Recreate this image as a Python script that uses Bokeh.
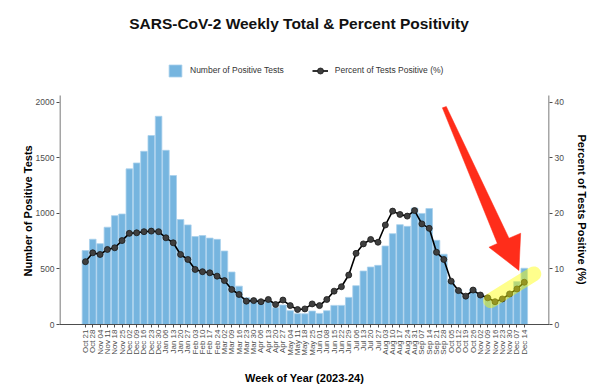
import math
from bokeh.plotting import figure
from bokeh.models import (Range1d, LinearAxis, FixedTicker, Legend, LegendItem,
                          ColumnDataSource, Label, Title)
from bokeh.embed import file_html
from bokeh.resources import INLINE

weeks = ["Oct 21","Oct 28","Nov 04","Nov 11","Nov 18","Nov 25","Dec 02","Dec 09","Dec 16",
         "Dec 23","Dec 30","Jan 06","Jan 13","Jan 20","Jan 27","Feb 03","Feb 10","Feb 17",
         "Feb 24","Mar 02","Mar 09","Mar 16","Mar 23","Mar 30","Apr 06","Apr 13","Apr 20",
         "Apr 27","May 04","May 11","May 18","May 25","Jun 01","Jun 08","Jun 15","Jun 22",
         "Jun 29","Jul 06","Jul 13","Jul 20","Jul 27","Aug 03","Aug 10","Aug 17","Aug 24",
         "Aug 31","Sep 07","Sep 14","Sep 21","Sep 28","Oct 05","Oct 12","Oct 19","Oct 26",
         "Nov 02","Nov 09","Nov 16","Nov 23","Nov 30","Dec 07","Dec 14"]

positive_tests = [665, 767, 727, 875, 979, 994, 1400, 1453, 1558, 1700, 1873, 1567, 1340, 944,
                  896, 791, 800, 777, 766, 661, 472, 345, 240, 230, 215, 208, 151, 175, 124,
                  97, 96, 121, 100, 124, 172, 172, 244, 349, 481, 517, 532, 706, 817, 898,
                  883, 1047, 999, 1043, 757, 632, 392, 314, 259, 320, 271, 247, 205, 227,
                  287, 386, 506]

percent_positive = [11.3, 12.9, 12.6, 13.5, 13.8, 15.1, 16.4, 16.5, 16.7, 16.8, 16.7, 15.6,
                    14.7, 12.6, 11.7, 9.9, 9.5, 9.3, 8.7, 7.9, 6.3, 5.4, 4.2, 4.3, 4.1, 4.5,
                    3.6, 4.4, 3.4, 2.7, 2.8, 3.7, 3.4, 4.5, 6.0, 6.8, 8.9, 12.8, 14.5, 15.3,
                    14.8, 17.9, 20.4, 19.8, 19.5, 20.5, 18.1, 17.3, 13.0, 11.7, 7.8, 6.1, 5.1,
                    6.2, 5.3, 4.8, 4.1, 4.6, 5.5, 6.4, 7.6]

left_ticks = [0, 500, 1000, 1500, 2000]
right_ticks = [0, 10, 20, 30, 40]
left_axis_max = 2060
right_axis_max = 41.2

# annotation overlays (data coordinates: x = week index, y = left-axis units / percent)
highlight_x = [55.4, 61.3]
highlight_pct = [4.3, 9.1]
arrow_x = [48.80, 56.32, 55.17, 59.27, 59.51, 57.91, 49.34]
arrow_y = [1949, 729, 695, 486, 821, 776, 1961]

idx = list(range(len(weeks)))
src = ColumnDataSource(dict(x=idx, n=positive_tests, pct=percent_positive))

FONT = "Liberation Sans"
GREY = "#4d4d4d"

W, H = 600, 388
BL, BR, BB = 59, 51, 64          # borders; frame runs to the top edge
FH = H - BB
panel_h = 229                     # height of the plotting panel inside the frame
x0, x1 = -3.55, 63.45
y_top = left_axis_max * FH / panel_h
pct_top = right_axis_max * FH / panel_h

p = figure(width=W, height=H, output_backend="svg", toolbar_location=None,
           x_range=Range1d(x0, x1), y_range=Range1d(0, y_top),
           min_border_left=BL, min_border_right=BR, min_border_top=0, min_border_bottom=BB)
p.title.visible = False
p.outline_line_color = None
p.grid.visible = False
p.background_fill_color = "white"
p.extra_y_ranges = {"pct": Range1d(0, pct_top)}

bars = p.vbar(x="x", top="n", width=0.9, source=src, fill_color="#76b5df",
              line_color="#a9d1ec", line_width=0.8)
ln = p.line(x="x", y="pct", source=src, y_range_name="pct", line_color="black", line_width=1.6)
pts = p.scatter(x="x", y="pct", source=src, y_range_name="pct", size=6,
                fill_color="#3f3f3f", line_color="#1a1a1a", line_width=0.8)

# yellow highlight and red arrow overlays
p.line(highlight_x, highlight_pct, y_range_name="pct", line_color="#ffff00", line_alpha=0.45,
       line_width=15, line_cap="round")
p.patch(arrow_x, arrow_y, fill_color="#ff2d1a", line_color="#ff2d1a", line_width=0.5)

# vertical axis lines limited to the panel height
dx = 0.5 * (x1 - x0) / (W - BL - BR)
p.segment(x0=[x0 + dx, x1 - dx], y0=[0, 0], x1=[x0 + dx, x1 - dx], y1=[left_axis_max] * 2,
          line_color=GREY, line_width=1)

# axes
xa = p.xaxis[0]
xa.ticker = FixedTicker(ticks=idx)
xa.major_label_overrides = {i: w for i, w in enumerate(weeks)}
xa.major_label_orientation = math.pi / 2
xa.axis_label = "Week of Year (2023-24)"

ya = p.yaxis[0]
ya.ticker = FixedTicker(ticks=left_ticks)

ra = LinearAxis(y_range_name="pct", ticker=FixedTicker(ticks=right_ticks))
p.add_layout(ra, "right")

for ax in (xa, ya, ra):
    ax.axis_line_color = GREY
    ax.major_tick_line_color = GREY
    ax.major_tick_in = 0
    ax.major_tick_out = 3
    ax.minor_tick_line_color = None
    ax.major_label_text_font = FONT
    ax.major_label_text_color = GREY
    ax.major_label_text_font_size = "8.5px"
    ax.major_label_standoff = 2
    ax.axis_label_text_font = FONT
    ax.axis_label_text_font_style = "bold"
    ax.axis_label_text_font_size = "11px"
    ax.axis_label_text_color = "black"
ya.axis_line_color = None
ra.axis_line_color = None
xa.major_label_text_font_size = "8px"
xa.axis_label_standoff = 13

lt = Title(text="Number of Positive Tests", align="left", offset=48, standoff=-3,
           text_font=FONT, text_font_style="bold", text_font_size="11px", text_color="black")
p.add_layout(lt, "left")
rt = Title(text="Percent of Tests Positive (%)", align="left", offset=134, standoff=18,
           text_font=FONT, text_font_style="bold", text_font_size="11px", text_color="black")
p.add_layout(rt, "right")

legend = Legend(items=[LegendItem(label="Number of Positive Tests", renderers=[bars]),
                       LegendItem(label="Percent of Tests Positive (%)", renderers=[ln, pts])],
                orientation="horizontal", location=(108, FH - 77.5))
legend.border_line_alpha = 0
legend.background_fill_alpha = 0
legend.padding = 0
legend.margin = 0
legend.spacing = 28
legend.label_standoff = 7
legend.glyph_width = 16
legend.glyph_height = 15
legend.label_text_font = FONT
legend.label_text_font_size = "8.5px"
legend.label_text_color = "#333333"
p.add_layout(legend, "center")

title = Label(x=239.5, y=FH - 23, x_units="screen", y_units="screen",
              text="SARS-CoV-2 Weekly Total & Percent Positivity", text_align="center",
              text_baseline="middle", text_font=FONT, text_font_style="bold",
              text_font_size="15.5px", text_color="#111111")
p.add_layout(title)

open("out.html", "w").write(file_html(p, INLINE))
